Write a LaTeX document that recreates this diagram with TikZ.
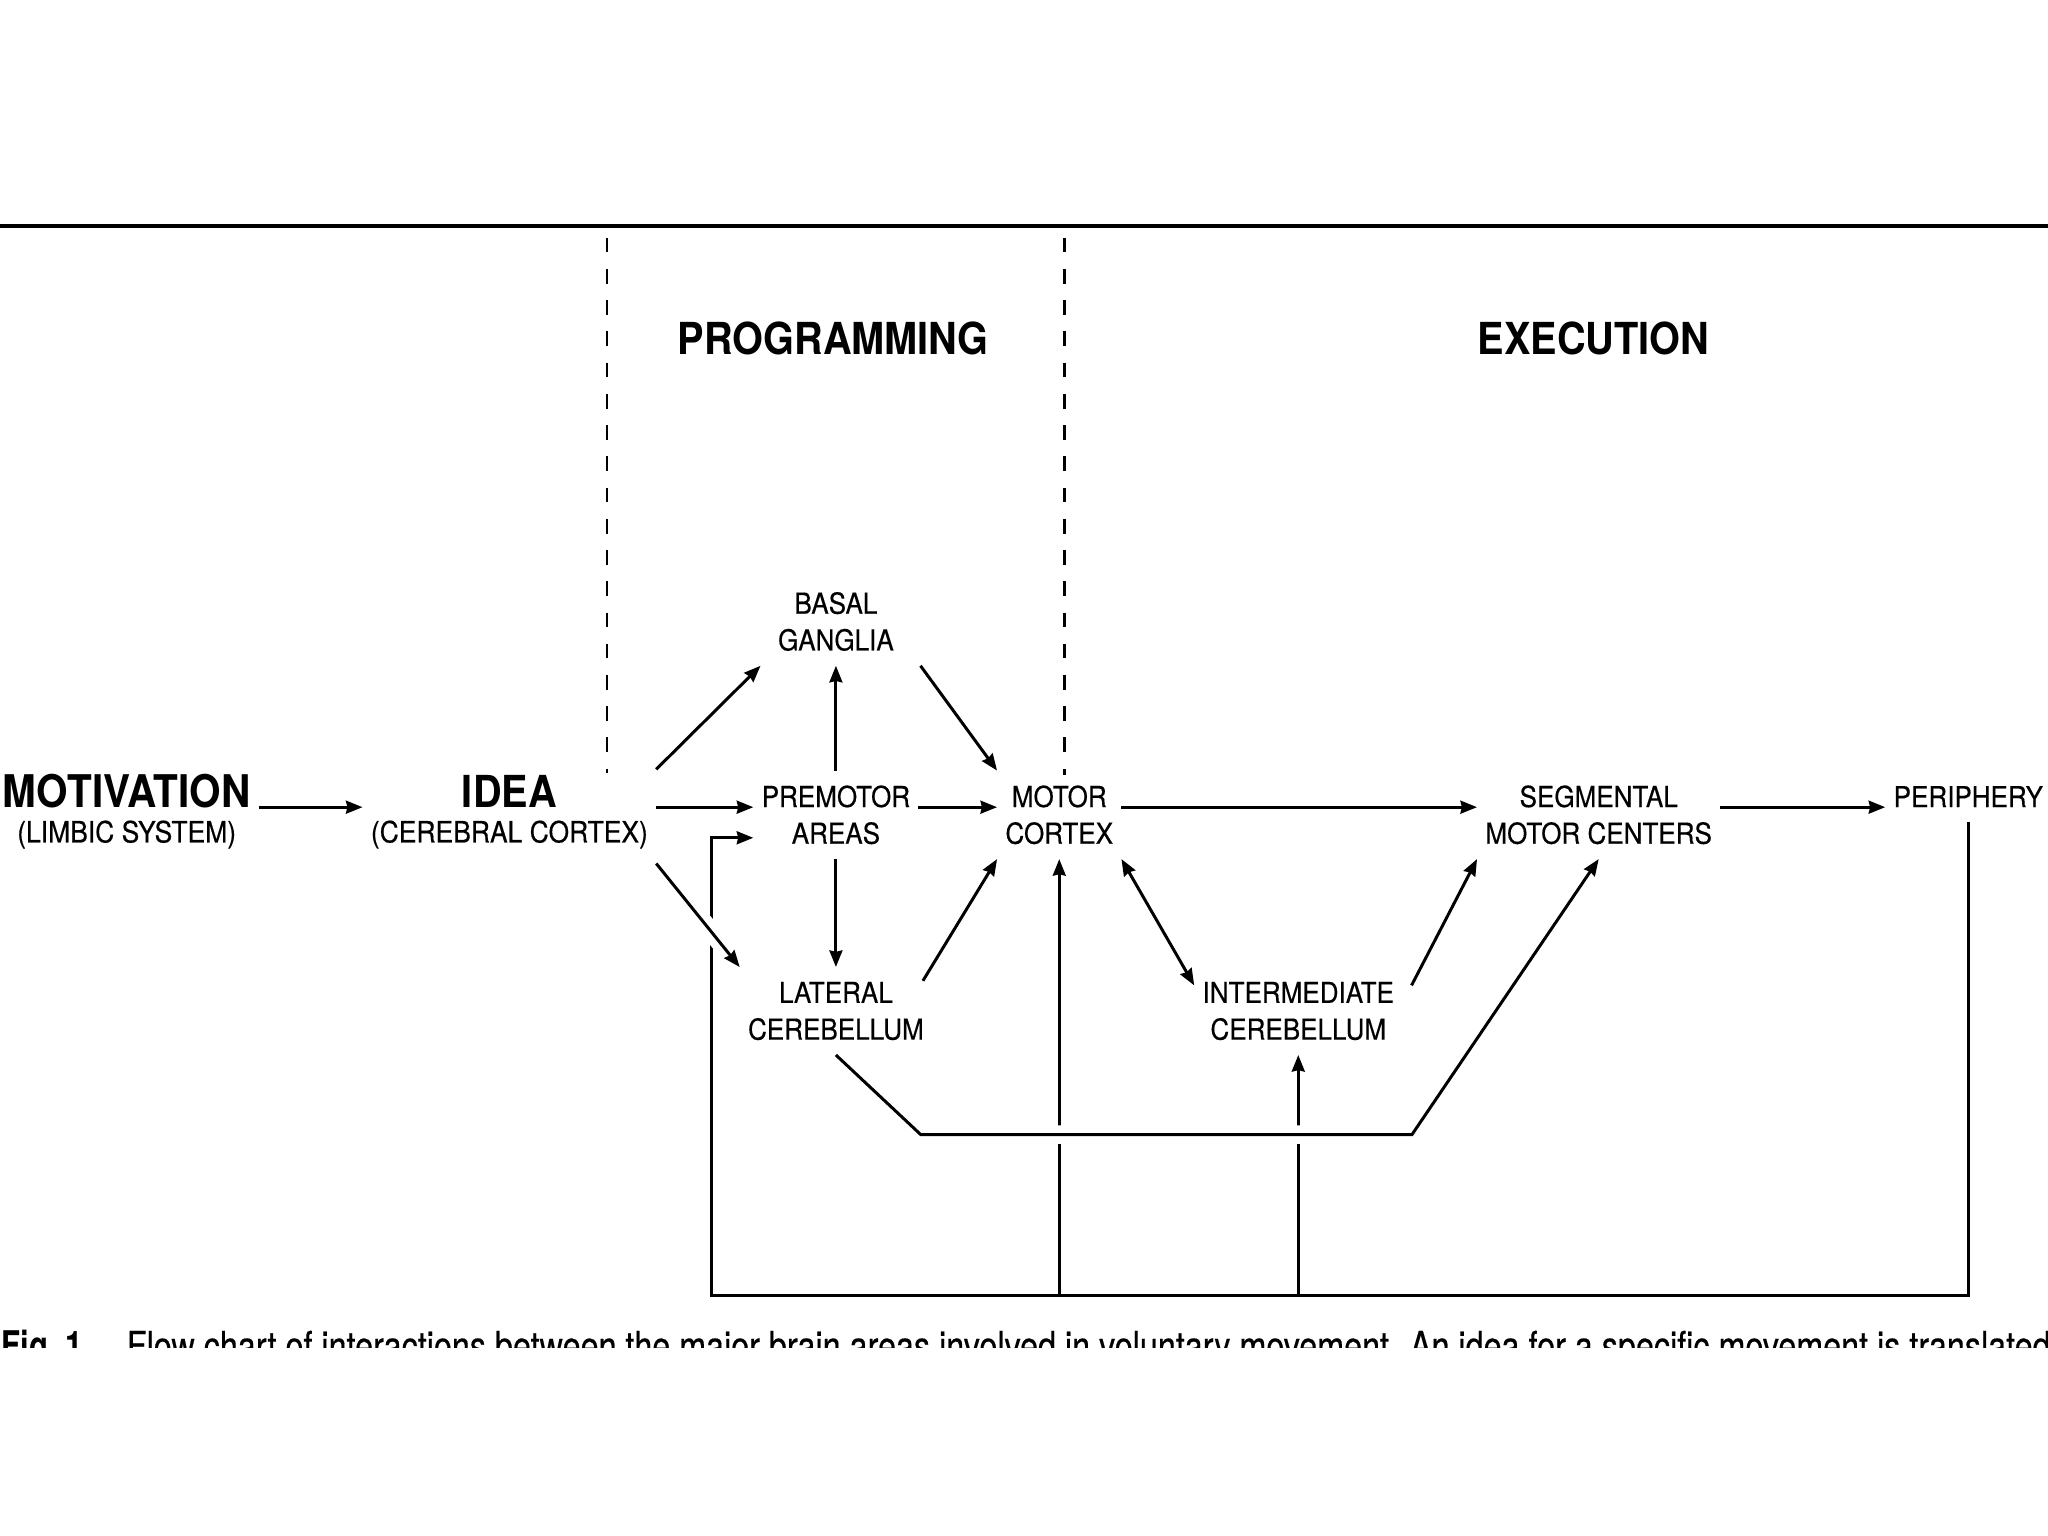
\documentclass[tikz,border=0pt]{standalone}
\usepackage{fontspec}
\setmainfont{TeX Gyre Heros}[FakeStretch=0.9, UprightFeatures={FakeBold=0.4}]
\usepackage{graphicx}
\usetikzlibrary{arrows.meta}

\begin{document}
\begin{tikzpicture}[
  x=0.01cm, y=-0.01cm,
  area/.style={align=center, anchor=base, inner xsep=1.5pt, inner ysep=2.9pt,
    font=\fontsize{6.3}{8}\selectfont},
  source/.style={area, font=\fontsize{6.4}{7.7}\selectfont},
  phase/.style={font=\fontsize{9.6}{11}\selectfont\bfseries},
  divider/.style={-, line width=0.45pt, dash pattern=on 3.2pt off 3.6pt},
  hop/.style={preaction={draw=white, line width=4pt, -}},
  line width=0.65pt, ->, >={Stealth[length=3.6pt, width=2.8pt, inset=0.3pt]}
]
  \useasboundingbox (0,0) rectangle (1568,1176);
  \draw[-, line width=0.9pt] (0,173) -- (1568,173);
  \draw[divider] (465,182) -- (465,592);
  \draw[divider] (815,182) -- (815,593);

  \node[phase] (prog) at (638,259) {PROGRAMMING};
  \node[phase] (exec) at (1220,259) {EXECUTION};

  % base = baseline of the last line
  \node[source] (motiv) at (97,645) {{\fontsize{9.8}{7.7}\selectfont\bfseries MOTIVATION}\\(LIMBIC SYSTEM)};
  \node[source] (idea) at (390,645) {{\fontsize{9.6}{7.7}\selectfont\bfseries IDEA}\\(CEREBRAL CORTEX)};
  \node[area] (basal) at (640,498) {BASAL\\GANGLIA};
  \node[area] (premotor) at (640,646) {PREMOTOR\\AREAS};
  \node[area] (motor) at (811,646) {MOTOR\\CORTEX};
  \node[area] (lateral) at (640,796) {LATERAL\\CEREBELLUM};
  \node[area] (inter) at (994,796) {INTERMEDIATE\\CEREBELLUM};
  \node[area] (segm) at (1224,646) {SEGMENTAL\\MOTOR CENTERS};
  \node[area] (periph) at (1507,618) {PERIPHERY};
  \coordinate (axis) at (0,618);
  \coordinate (fb) at (545,992);

  % main line
  \draw (motiv.east |- axis) -- (idea.west |- axis);
  \draw (idea.east |- axis) -- (premotor.west |- axis);
  \draw (premotor.east |- axis) -- (motor.west |- axis);
  \draw (motor.east |- axis) -- (segm.west |- axis);
  \draw (segm.east |- axis) -- (periph.west |- axis);

  % programming
  \draw ([yshift=-2pt]idea.north east) -- ([xshift=-2pt]basal.south west);
  \draw (premotor.north) -- (basal.south);
  \draw (premotor.south) -- (lateral.north);
  \draw ([xshift=4pt]basal.south east) -- (motor.north west);
  \draw ([xshift=-2pt,yshift=-3pt]lateral.north east) -- (motor.south west);

  % execution
  \draw[<->] (motor.south east) -- ([yshift=-4pt]inter.north west);
  \draw ([xshift=2pt,yshift=-4pt]inter.north east) -- (segm.south west);

  % feedback from the periphery
  \draw (periph.south) |- (fb) |- ([yshift=-5pt]premotor.west);
  \draw (motor.south |- fb) -- (motor.south);
  \draw (inter.south |- fb) -- (inter.south);
  \draw[hop] (idea.south east) -- (lateral.north west);
  \draw[hop] (lateral.south) -- ++(65,61) -- ++(376,0) -- (segm.south);

  % cut-off caption
  \begin{scope}
    \clip (0,1000) rectangle (1568,1032);
    \node[anchor=base west, inner sep=0pt, font=\fontsize{8.6}{10}\selectfont] (fig) at (0,1041)
      {\resizebox{0.62cm}{\height}{\bfseries Fig.\ 1}};
    \node[anchor=base west, inner sep=0pt, font=\fontsize{8.6}{10}\selectfont] (capt) at (96,1041)
      {\resizebox{14.72cm}{\height}{Flow chart of interactions between the major brain areas involved in voluntary movement. An idea for a specific movement is translated}};
  \end{scope}
\end{tikzpicture}
\end{document}
